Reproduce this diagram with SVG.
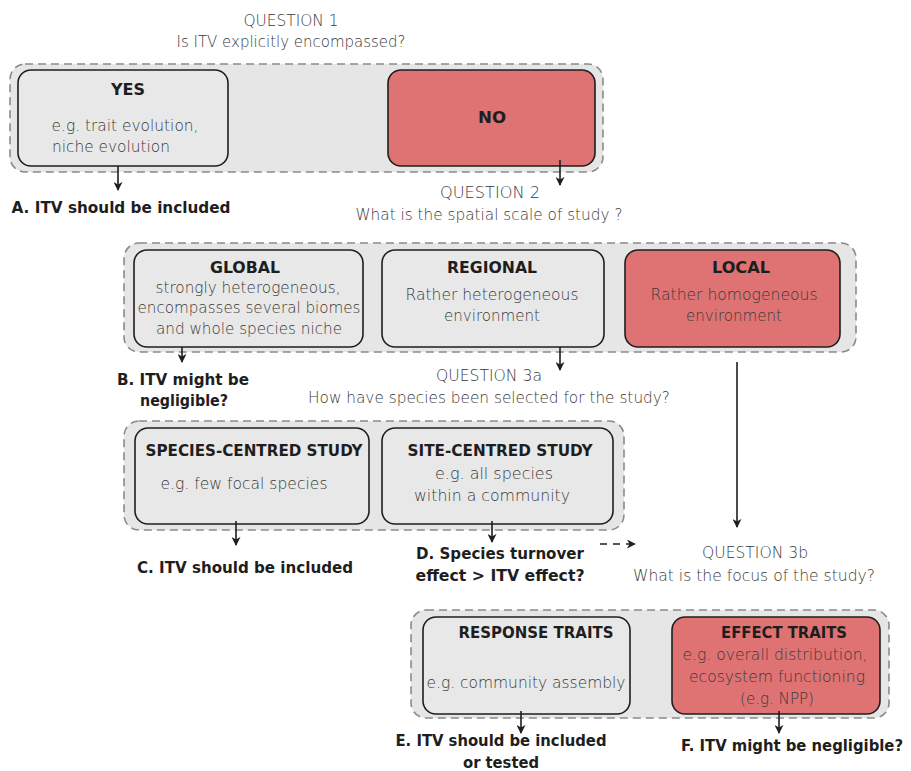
<svg xmlns="http://www.w3.org/2000/svg" width="911" height="771" viewBox="0 0 911 771">
<defs>
<style>
.grp{fill:#e6e6e6;stroke:#8a8a8a;stroke-width:1.6;stroke-dasharray:8 5}
.box{fill:#e8e8e8;stroke:#1e1e1e;stroke-width:1.6}
.red{fill:#df7272;stroke:#1e1e1e;stroke-width:1.6}
.t{font-family:"DejaVu Sans","Liberation Sans",sans-serif;font-weight:200;font-size:16px;fill:#3a3a3a;text-anchor:middle}
.h{font-family:"DejaVu Sans Condensed","DejaVu Sans","Liberation Sans",sans-serif;font-stretch:condensed;font-weight:bold;font-size:16px;fill:#1e1e1e;text-anchor:middle}
.ln{stroke:#1e1e1e;stroke-width:1.6;fill:none}
</style>
<marker id="ah" viewBox="0 0 10 10" refX="9" refY="5" markerWidth="9" markerHeight="9" markerUnits="userSpaceOnUse" orient="auto">
<path d="M0,0 L10,5 L0,10 L3,5 Z" fill="#1e1e1e"/>
</marker>
</defs>
<rect width="911" height="771" fill="#fff"/>

<g id="q1">
<text class="t" x="291" y="26" textLength="95" lengthAdjust="spacingAndGlyphs">QUESTION 1</text>
<text class="t" x="291" y="47" textLength="229" lengthAdjust="spacingAndGlyphs">Is ITV explicitly encompassed?</text>
</g>
<g id="group1"><rect class="grp" x="10" y="64" width="593" height="108" rx="15"/></g>
<g id="yes">
<rect class="box" x="18" y="70" width="210" height="96" rx="13"/>
<text class="h" x="128" y="95" textLength="34" lengthAdjust="spacingAndGlyphs">YES</text>
<text class="t" x="125" y="131" textLength="147" lengthAdjust="spacingAndGlyphs">e.g. trait evolution,</text>
<text class="t" x="111" y="152" textLength="118" lengthAdjust="spacingAndGlyphs">niche evolution</text>
</g>
<g id="no">
<rect class="red" x="388" y="70" width="207" height="96" rx="13"/>
<text class="h" x="492" y="123" textLength="28" lengthAdjust="spacingAndGlyphs">NO</text>
</g>
<g id="resA"><text class="h" x="121" y="213" textLength="219" lengthAdjust="spacingAndGlyphs">A. ITV should be included</text></g>
<g id="q2">
<text class="t" x="490" y="198" textLength="100" lengthAdjust="spacingAndGlyphs">QUESTION 2</text>
<text class="t" x="489" y="220" textLength="267" lengthAdjust="spacingAndGlyphs">What is the spatial scale of study ?</text>
</g>

<g id="group2"><rect class="grp" x="124" y="243" width="732" height="109" rx="15"/></g>
<g id="global">
<rect class="box" x="134" y="250" width="229" height="97" rx="13"/>
<text class="h" x="245" y="273" textLength="70" lengthAdjust="spacingAndGlyphs">GLOBAL</text>
<text class="t" x="248" y="293" textLength="185" lengthAdjust="spacingAndGlyphs">strongly heterogeneous,</text>
<text class="t" x="249" y="313" textLength="223" lengthAdjust="spacingAndGlyphs">encompasses several biomes</text>
<text class="t" x="249" y="334" textLength="186" lengthAdjust="spacingAndGlyphs">and whole species niche</text>
</g>
<g id="regional">
<rect class="box" x="382" y="250" width="222" height="97" rx="13"/>
<text class="h" x="492" y="273" textLength="90" lengthAdjust="spacingAndGlyphs">REGIONAL</text>
<text class="t" x="492" y="300" textLength="173" lengthAdjust="spacingAndGlyphs">Rather heterogeneous</text>
<text class="t" x="492" y="321" textLength="96" lengthAdjust="spacingAndGlyphs">environment</text>
</g>
<g id="local">
<rect class="red" x="625" y="250" width="215" height="97" rx="13"/>
<text class="h" x="741" y="273" textLength="58" lengthAdjust="spacingAndGlyphs">LOCAL</text>
<text class="t" x="734" y="300" textLength="167" lengthAdjust="spacingAndGlyphs">Rather homogeneous</text>
<text class="t" x="734" y="321" textLength="96" lengthAdjust="spacingAndGlyphs">environment</text>
</g>
<g id="resB">
<text class="h" x="183" y="385" textLength="132" lengthAdjust="spacingAndGlyphs">B. ITV might be</text>
<text class="h" x="184" y="406" textLength="88" lengthAdjust="spacingAndGlyphs">negligible?</text>
</g>
<g id="q3a">
<text class="t" x="489" y="381" textLength="106" lengthAdjust="spacingAndGlyphs">QUESTION 3a</text>
<text class="t" x="489" y="403" textLength="362" lengthAdjust="spacingAndGlyphs">How have species been selected for the study?</text>
</g>

<g id="group3"><rect class="grp" x="124" y="421" width="500" height="109" rx="15"/></g>
<g id="species">
<rect class="box" x="135" y="428" width="234" height="96" rx="13"/>
<text class="h" x="254" y="456" textLength="217" lengthAdjust="spacingAndGlyphs">SPECIES-CENTRED STUDY</text>
<text class="t" x="244" y="489" textLength="167" lengthAdjust="spacingAndGlyphs">e.g. few focal species</text>
</g>
<g id="site">
<rect class="box" x="382" y="428" width="231" height="96" rx="13"/>
<text class="h" x="500" y="456" textLength="185" lengthAdjust="spacingAndGlyphs">SITE-CENTRED STUDY</text>
<text class="t" x="494" y="479" textLength="118" lengthAdjust="spacingAndGlyphs">e.g. all species</text>
<text class="t" x="492" y="501" textLength="156" lengthAdjust="spacingAndGlyphs">within a community</text>
</g>
<g id="resC"><text class="h" x="245" y="573" textLength="216" lengthAdjust="spacingAndGlyphs">C. ITV should be included</text></g>
<g id="resD">
<text class="h" x="500" y="559" textLength="168" lengthAdjust="spacingAndGlyphs">D. Species turnover</text>
<text class="h" x="500" y="581" textLength="169" lengthAdjust="spacingAndGlyphs">effect &gt; ITV effect?</text>
</g>
<g id="q3b">
<text class="t" x="755" y="558" textLength="106" lengthAdjust="spacingAndGlyphs">QUESTION 3b</text>
<text class="t" x="754" y="581" textLength="242" lengthAdjust="spacingAndGlyphs">What is the focus of the study?</text>
</g>

<g id="group4"><rect class="grp" x="411" y="610" width="478" height="108" rx="15"/></g>
<g id="response">
<rect class="box" x="423" y="617" width="207" height="97" rx="13"/>
<text class="h" x="536" y="638" textLength="155" lengthAdjust="spacingAndGlyphs">RESPONSE TRAITS</text>
<text class="t" x="526" y="688" textLength="199" lengthAdjust="spacingAndGlyphs">e.g. community assembly</text>
</g>
<g id="effect">
<rect class="red" x="672" y="617" width="208" height="97" rx="13"/>
<text class="h" x="784" y="638" textLength="126" lengthAdjust="spacingAndGlyphs">EFFECT TRAITS</text>
<text class="t" x="775" y="660" textLength="185" lengthAdjust="spacingAndGlyphs">e.g. overall distribution,</text>
<text class="t" x="777" y="682" textLength="176" lengthAdjust="spacingAndGlyphs">ecosystem functioning</text>
<text class="t" x="777" y="704" textLength="74" lengthAdjust="spacingAndGlyphs">(e.g. NPP)</text>
</g>
<g id="resE">
<text class="h" x="501" y="746" textLength="211" lengthAdjust="spacingAndGlyphs">E. ITV should be included</text>
<text class="h" x="501" y="768" textLength="76" lengthAdjust="spacingAndGlyphs">or tested</text>
</g>
<g id="resF"><text class="h" x="792" y="751" font-size="15" textLength="222" lengthAdjust="spacingAndGlyphs">F. ITV might be negligible?</text></g>

<g id="connectors">
<line class="ln" x1="118" y1="166" x2="118" y2="190" marker-end="url(#ah)"/>
<line class="ln" x1="560" y1="160" x2="560" y2="185" marker-end="url(#ah)"/>
<line class="ln" x1="182" y1="347" x2="182" y2="362" marker-end="url(#ah)"/>
<line class="ln" x1="560" y1="347" x2="560" y2="370" marker-end="url(#ah)"/>
<line class="ln" x1="737" y1="362" x2="737" y2="527" marker-end="url(#ah)"/>
<line class="ln" x1="236" y1="521" x2="236" y2="545" marker-end="url(#ah)"/>
<line class="ln" x1="492" y1="521" x2="492" y2="542" marker-end="url(#ah)"/>
<line class="ln" x1="600" y1="544" x2="635" y2="544" stroke-dasharray="7 6" marker-end="url(#ah)"/>
<line class="ln" x1="521" y1="711" x2="521" y2="733" marker-end="url(#ah)"/>
<line class="ln" x1="779" y1="711" x2="779" y2="733" marker-end="url(#ah)"/>
</g>
</svg>
